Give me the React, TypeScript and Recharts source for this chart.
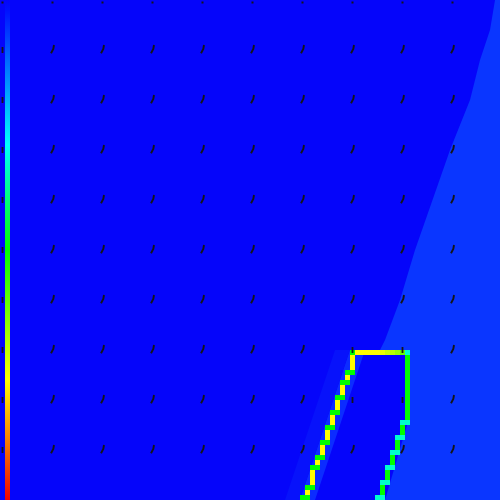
import { ComposedChart, XAxis, YAxis, Area, Scatter, ReferenceArea } from "recharts"

// grid of 100 x 100 cells, rows counted from the top
const lightEdgeX = [76, 77, 80, 83, 86.5, 90, 94, 96, 98, 99, 100]
const lightEdgeY = [70, 68, 60, 50, 40, 30, 20, 12, 6, 0, 0]

const interiorX = [60, 70, 77, 82]
const interiorTop = [100, 70, 70, 70]
const interiorBottom = [100, 100, 100, 83]

const bandInX = [60, 63, 70, 73]
const bandInTop = [100, 91, 70, 70]
const bandInBottom = [100, 100, 79, 70]

const bandOutX = [57, 60, 67, 70]
const bandOutTop = [100, 91, 70, 70]
const bandOutBottom = [100, 100, 79, 70]

// staircase edges of the outlined zone: [col, row] where the edge steps one column left
const leftSteps = [[69, 74], [68, 76], [67, 79], [66, 82], [65, 85], [64, 88], [63, 91], [62, 93], [61, 97], [60, 99]]
const rightSteps = [[80, 84], [79, 87], [78, 90], [77, 93], [76, 96], [75, 99]]

// top edge, cols 70..81, colour-map values
const topCols = [70, 71, 72, 73, 74, 75, 76, 77, 78, 79, 80, 81]
const topVals = [0.5, 0.75, 0.75, 0.75, 0.75, 0.75, 0.73, 0.7, 0.68, 0.65, 0.6, 0.3]

// quiver arrows
const arrowCols = [0, 10, 20, 30, 40, 50, 60, 70, 80, 90]
const arrowRows = [0, 10, 20, 30, 40, 50, 60, 70, 80, 90]
const upright = [[70, 70], [80, 70], [70, 80], [80, 80]]

const DARK = "#0505fa"
const INK = "#161616"

function rainbow(v: number) {
  const stops = [[0, 0, 255], [0, 255, 255], [0, 255, 0], [255, 255, 0], [255, 0, 0]]
  const t = Math.max(0, Math.min(1, v)) * 4
  const i = Math.min(3, Math.floor(t))
  const f = t - i
  const c = stops[i].map((a, k) => Math.round(a + (stops[i + 1][k] - a) * f))
  return `rgb(${c[0]},${c[1]},${c[2]})`
}

const lightData = lightEdgeX.map((x, i) => ({ x, r: [lightEdgeY[i], 100] }))
const interiorData = interiorX.map((x, i) => ({ x, r: [interiorTop[i], interiorBottom[i]] }))
const bandInData = bandInX.map((x, i) => ({ x, r: [bandInTop[i], bandInBottom[i]] }))
const bandOutData = bandOutX.map((x, i) => ({ x, r: [bandOutTop[i], bandOutBottom[i]] }))

function stairs(start: number[], steps: number[][]) {
  const pts = [{ x: start[0] + 0.5, y: start[1] + 0.5 }]
  steps.forEach(([c, r]) => {
    pts.push({ x: c + 1.5, y: r + 0.5 })
    pts.push({ x: c + 0.5, y: r + 0.5 })
  })
  const last = steps[steps.length - 1]
  pts.push({ x: last[0] + 0.5, y: 100 })
  return pts
}

const leftPath = stairs([70, 70], leftSteps)
const rightPath = stairs([81, 70], rightSteps)

const cells: { x: number; y: number; color: string }[] = []
leftSteps.forEach(([c, r]) => {
  cells.push({ x: c + 0.5, y: r + 0.5, color: rainbow(0.5) })
  cells.push({ x: c + 1.5, y: r + 0.5, color: rainbow(0.5) })
})
rightSteps.forEach(([c, r]) => {
  cells.push({ x: c + 0.5, y: r + 0.5, color: rainbow(0.3) })
  cells.push({ x: c + 1.5, y: r + 0.5, color: rainbow(0.3) })
})
topCols.forEach((c, i) => cells.push({ x: c + 0.5, y: 70.5, color: rainbow(topVals[i]) }))

const arrows: { x: number; y: number; kind: string }[] = []
arrowRows.forEach((r) =>
  arrowCols.forEach((c) => {
    let kind = "slant"
    if (r === 0) kind = "dot"
    else if (c === 0 || upright.some(([a, b]) => a === c && b === r)) kind = "up"
    arrows.push({ x: c + 0.5, y: r + 0.5, kind })
  })
)

const Cell = (p: any) => <rect x={p.cx - 2.5} y={p.cy - 2.5} width={5} height={5} fill={p.payload.color} />

const Arrow = (p: any) => {
  const { cx, cy } = p
  const kind = p.payload.kind
  if (kind === "dot") return <rect x={cx - 1} y={cy - 1} width={2} height={2} fill={INK} />
  if (kind === "up") return <line x1={cx} y1={cy + 0.5} x2={cx} y2={cy - 5.5} stroke={INK} strokeWidth={1.8} />
  return (
    <polyline
      points={`${cx - 1.5},${cy + 0.8} ${cx - 0.3},${cy - 1.5} ${cx + 0.8},${cy - 3.5} ${cx + 1.5},${cy - 7.5}`}
      fill="none"
      stroke={INK}
      strokeWidth={1.9}
    />
  )
}

const Nothing = () => <g />

export default function App() {
  return (
    <div style={{ position: "absolute", left: 0, top: 0, width: 500, height: 500, background: DARK }}>
      <ComposedChart width={500} height={500} margin={{ top: 0, right: 0, bottom: 0, left: 0 }}>
        <defs>
          <linearGradient id="bar" x1="0" y1="0" x2="0" y2="1">
            <stop offset="0" stopColor={DARK} />
            <stop offset="0.02" stopColor="#0010ff" />
            <stop offset="0.29" stopColor="#00ffff" />
            <stop offset="0.5" stopColor="#00ff00" />
            <stop offset="0.76" stopColor="#ffff00" />
            <stop offset="1" stopColor="#f00000" />
          </linearGradient>
        </defs>
        <XAxis dataKey="x" type="number" domain={[0, 100]} allowDataOverflow hide />
        <YAxis dataKey="y" type="number" domain={[0, 100]} reversed allowDataOverflow hide />
        <ReferenceArea x1={1} x2={2} y1={0} y2={100} fill="url(#bar)" fillOpacity={1} stroke="none" />
        <Area data={bandOutData} dataKey="r" type="linear" stroke="none" fill="#0712fb" fillOpacity={1} dot={false} activeDot={false} isAnimationActive={false} />
        <Area data={lightData} dataKey="r" type="linear" stroke="none" fill="#0a36ff" fillOpacity={1} dot={false} activeDot={false} isAnimationActive={false} />
        <Area data={interiorData} dataKey="r" type="linear" stroke="none" fill={DARK} fillOpacity={1} dot={false} activeDot={false} isAnimationActive={false} />
        <Area data={bandInData} dataKey="r" type="linear" stroke="none" fill="#0c2cff" fillOpacity={1} dot={false} activeDot={false} isAnimationActive={false} />
        <Scatter data={leftPath} dataKey="y" shape={Nothing} line={{ stroke: "#ffff00", strokeWidth: 5, strokeLinecap: "square" }} isAnimationActive={false} />
        <Scatter data={rightPath} dataKey="y" shape={Nothing} line={{ stroke: "#00ff00", strokeWidth: 5, strokeLinecap: "square" }} isAnimationActive={false} />
        <Scatter data={cells} dataKey="y" shape={Cell} isAnimationActive={false} />
        <Scatter data={arrows} dataKey="y" shape={Arrow} isAnimationActive={false} />
      </ComposedChart>
    </div>
  )
}
